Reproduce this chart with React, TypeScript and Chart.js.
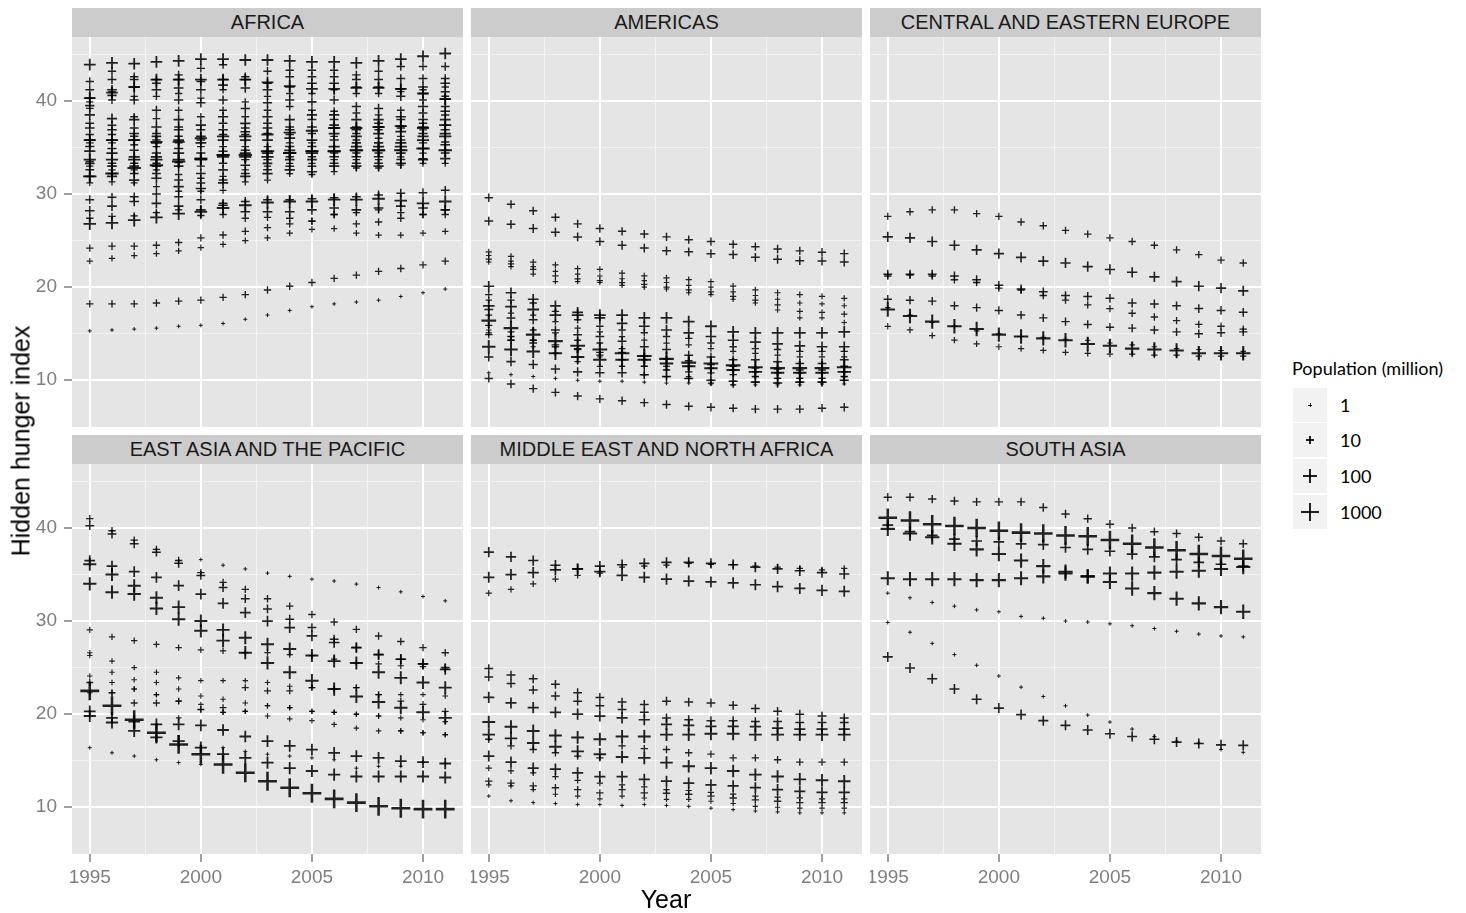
import React, { useEffect, useRef } from "react";
import { Chart, registerables } from "chart.js";

Chart.register(...registerables);

// ---------------- DATA ----------------
const years = [1995, 1996, 1997, 1998, 1999, 2000, 2001, 2002, 2003, 2004, 2005, 2006, 2007, 2008, 2009, 2010, 2011];
const regionNames = ["AFRICA", "AMERICAS", "CENTRAL AND EASTERN EUROPE", "EAST ASIA AND THE PACIFIC", "MIDDLE EAST AND NORTH AFRICA", "SOUTH ASIA"];
const yTickLabels = [10, 20, 30, 40];
const yMinorLines = [15, 25, 35, 45];
const xTickLabels = [1995, 2000, 2005, 2010];
const xMinorLines = [1997.5, 2002.5, 2007.5];
const popBreaks = [1, 10, 100, 1000];

// Africa: dense columns (one array per year, ranked top to bottom)
const africaByYear: number[][] = [
  [43.9, 42.1, 41.2, 40.3, 39.9, 39.5, 39.2, 38.5, 37.6, 37.1, 36.4, 35.8, 35.5, 35.1, 34.6, 33.7, 33.5, 33.3, 33.0, 32.6, 31.9, 31.2],
  [44.1, 43.2, 42.3, 41.2, 41.0, 40.6, 40.1, 38.1, 37.4, 36.9, 36.4, 35.8, 35.5, 34.9, 34.4, 33.7, 33.3, 33.0, 32.6, 32.2, 31.9, 31.3],
  [44.0, 42.6, 42.3, 41.5, 40.5, 40.1, 38.3, 38.0, 37.1, 36.5, 36.2, 35.8, 35.3, 34.7, 34.0, 33.7, 33.3, 33.0, 32.6, 32.2, 31.5, 31.2],
  [44.2, 42.3, 41.9, 41.2, 40.5, 39.0, 38.1, 37.2, 36.5, 36.2, 35.8, 35.5, 35.1, 34.4, 34.0, 33.7, 33.3, 33.0, 32.6, 32.2, 31.7, 30.8],
  [44.3, 42.8, 42.3, 41.4, 40.8, 40.1, 39.0, 38.0, 37.2, 36.9, 36.2, 35.8, 35.5, 34.9, 34.4, 33.7, 33.4, 33.0, 32.1, 31.5, 30.8, 30.3],
  [44.5, 43.5, 42.1, 41.2, 40.3, 39.8, 38.3, 37.4, 36.9, 36.2, 35.8, 35.5, 35.1, 34.4, 33.8, 33.7, 33.0, 32.2, 31.7, 31.2, 30.6, 30.3],
  [44.5, 43.9, 42.3, 41.7, 41.2, 40.1, 39.0, 38.3, 37.6, 36.9, 36.4, 35.8, 35.1, 34.6, 34.2, 34.0, 33.3, 32.6, 31.9, 31.5, 31.2, 30.4],
  [44.4, 42.6, 42.3, 41.4, 39.9, 39.2, 38.3, 37.6, 37.1, 36.7, 36.4, 35.8, 35.1, 34.7, 34.4, 34.0, 33.7, 33.1, 32.6, 32.2, 31.9, 31.3],
  [44.4, 43.2, 41.9, 41.2, 40.5, 39.8, 39.0, 38.3, 37.6, 37.1, 36.5, 35.8, 35.1, 34.6, 34.4, 34.0, 33.7, 33.3, 33.0, 32.6, 32.2, 31.5],
  [44.3, 43.3, 42.6, 41.5, 40.8, 40.1, 39.4, 38.0, 37.2, 36.9, 36.4, 36.0, 35.5, 35.1, 34.7, 34.4, 34.0, 33.7, 33.3, 33.0, 32.6, 32.2],
  [44.2, 43.3, 42.6, 41.9, 40.8, 39.9, 39.0, 38.5, 38.0, 37.2, 36.5, 35.8, 35.5, 35.1, 34.6, 34.4, 34.0, 33.7, 33.3, 33.0, 32.4, 32.1],
  [44.2, 43.3, 42.6, 41.9, 41.2, 40.1, 38.9, 38.5, 38.0, 37.4, 37.1, 36.5, 36.2, 35.8, 35.1, 34.6, 34.4, 34.0, 33.7, 33.3, 33.0, 32.4],
  [44.1, 42.8, 42.3, 41.5, 40.8, 39.4, 38.7, 38.0, 37.2, 36.9, 36.5, 36.2, 35.8, 35.5, 35.1, 34.7, 34.4, 34.0, 33.7, 33.3, 33.0, 32.8],
  [44.3, 43.2, 42.3, 41.5, 40.8, 39.2, 38.5, 38.0, 37.6, 37.2, 36.9, 36.5, 36.0, 35.5, 35.1, 34.7, 34.4, 34.0, 33.7, 33.3, 33.0, 32.8],
  [44.5, 43.7, 42.4, 41.3, 41.0, 40.5, 39.0, 38.3, 38.0, 37.3, 37.1, 36.7, 36.2, 35.8, 35.5, 35.1, 34.7, 34.4, 34.0, 33.7, 33.3, 33.1],
  [44.8, 43.7, 42.4, 41.5, 41.2, 40.8, 40.1, 39.4, 38.7, 38.0, 37.6, 37.2, 36.9, 36.5, 36.2, 35.8, 35.5, 34.9, 34.4, 33.8, 33.7, 33.3],
  [45.1, 43.7, 42.4, 41.9, 41.5, 41.0, 40.5, 40.2, 39.4, 38.9, 38.5, 38.0, 37.4, 36.9, 36.5, 36.2, 35.6, 35.3, 34.7, 34.4, 33.8, 33.3],
];
const africaRankPop = [40, 8, 10, 15, 5, 12, 6, 20, 10, 15, 8, 25, 6, 12, 30, 50, 8, 15, 5, 10, 20, 4];

const africaTracks: (number | null)[][] = [
  [31.9, 32.2, 32.8, 33.1, 33.5, 33.8, 34.2, 34.2, 34.6, 34.4, 34.6, 34.6, 34.7, 34.7, 34.7, 34.9, 34.7],
  [40.3, 40.9, 41.5, 42.3, 42.3, 42.3, 42.3, 42.3, 42.0, 41.6, 41.3, 41.3, 41.4, 41.4, 41.3, 40.8, 40.2],
  [35.8, 35.8, 35.8, 35.6, 35.6, 36.0, 36.2, 36.2, 36.4, 36.6, 36.8, 37.1, 37.1, 37.2, 37.3, 37.1, 37.4],
  [29.4, 29.65, 29.7, 30.0, 29.7, 29.4, 29.0, 29.2, 29.4, 29.4, 29.5, 29.6, 29.7, 29.9, 30.1, 30.15, 30.4],
  [28.2, 28.7, 29.2, 29.0, 28.7, 28.3, 28.8, 28.1, 28.1, 28.1, 28.3, 28.5, 28.3, 28.5, 28.7, 28.5, 28.3],
  [27.4, 27.6, 27.65, 28.0, 28.3, 27.7, 27.8, 27.4, 27.5, 27.4, 27.1, 27.8, 28.0, 28.3, 28.0, 27.8, 27.8],
  [26.8, 26.9, 27.2, 27.5, 27.9, 28.1, 28.5, 28.8, 29.1, 29.2, 29.2, 29.4, 29.4, 29.5, 29.3, 29.0, 29.2],
  [24.2, 24.4, 24.4, 24.5, 24.8, 25.3, 25.6, 26.0, 26.4, 26.8, 27.1, 27.8, 26.8, 27.0, 27.4, 27.8, 28.3],
  [22.8, 23.1, 23.4, 23.6, 23.9, 24.25, 24.6, 25.0, 25.3, 25.8, 26.2, 26.3, 25.8, 25.6, 25.6, 25.8, 26.0],
  [18.2, 18.2, 18.2, 18.3, 18.5, 18.6, 18.9, 19.2, 19.7, 20.1, 20.5, 20.95, 21.3, 21.7, 22.0, 22.4, 22.8],
  [15.3, 15.4, 15.5, 15.6, 15.8, 15.9, 16.1, 16.55, 17.0, 17.5, 17.9, 18.2, 18.4, 18.6, 19.0, 19.4, 19.8],
];
const africaPop = [90, 40, 50, 10, 15, 5, 60, 5, 3, 5, 1];

const americasTracks: (number | null)[][] = [
  [29.6, 28.9, 28.2, 27.5, 26.8, 26.3, 26.0, 25.7, 25.4, 25.1, 24.9, 24.6, 24.35, 24.1, 23.9, 23.75, 23.6],
  [27.1, 26.75, 26.3, 25.9, 25.4, 24.9, 24.5, 24.2, 23.9, 23.8, 23.6, 23.5, 23.2, 23.0, 22.85, 22.8, 22.7],
  [23.8, 23.3, 22.7, 22.4, 22.0, 21.9, 21.5, 21.2, 21.0, 20.8, 20.6, 20.1, 19.7, 19.4, 19.2, 19.0, 18.8],
  [23.4, 22.8, 22.2, 21.7, 21.4, 21.2, 20.9, 20.7, 20.5, 20.2, 20.0, 19.5, 19.1, 18.7, 18.3, 18.2, 18.0],
  [23.0, 22.5, 21.9, 21.2, 20.9, 20.7, 20.5, 20.3, 20.0, 19.7, 19.5, 19.0, 18.6, 18.1, 17.4, 17.3, 17.1],
  [22.7, 22.2, 21.4, 20.6, 20.6, 20.5, 20.2, 20.0, 19.8, 19.4, 19.2, 18.7, 18.3, 17.55, 16.7, 16.7, 16.2],
  [20.1, 19.4, 18.7, 18.0, 17.3, 16.7, 16.1, 15.8, 15.4, 15.1, 14.7, 14.3, 14.1, 13.9, 13.7, 13.6, 13.6],
  [16.4, 15.6, 14.9, 14.2, 13.7, 13.3, 12.9, 12.6, 12.3, 11.9, 11.8, 11.6, 11.4, 11.3, 11.3, 11.3, 11.4],
  [13.6, 13.3, 13.1, 12.9, 12.5, 12.2, 12.2, 12.2, 11.8, 11.5, 11.3, 11.1, 10.9, 10.8, 10.8, 10.8, 10.9],
  [18.0, 17.9, 17.6, 17.0, 17.0, 17.0, 17.0, 16.7, 16.7, 16.3, 15.8, 15.2, 15.1, 15.1, 15.1, 15.1, 15.2],
  [19.2, 18.6, 18.3, 17.4, 16.5, 15.8, 15.4, 15.1, 14.7, 14.5, 14.0, 13.6, 13.4, 13.3, 13.1, 13.1, 13.1],
  [18.6, 17.2, 17.0, 16.3, 15.6, 15.2, 14.7, 14.3, 14.0, 13.8, 13.4, 13.1, 12.9, 12.7, 12.5, 12.5, 12.5],
  [17.6, 16.7, 16.5, 15.4, 14.9, 14.7, 14.2, 13.6, 13.3, 12.7, 12.5, 12.2, 12.2, 12.0, 11.8, 11.8, 12.2],
  [17.0, 15.2, 15.4, 15.1, 14.3, 14.0, 13.4, 12.2, 11.5, 11.5, 11.3, 11.1, 10.9, 10.8, 10.8, 10.8, 10.9],
  [15.9, 14.7, 14.3, 13.6, 13.3, 12.7, 12.2, 11.5, 11.1, 10.9, 10.8, 10.6, 10.4, 10.2, 10.2, 10.2, 10.4],
  [12.5, 12.0, 11.7, 11.2, 10.9, 10.8, 10.8, 10.6, 10.4, 10.2, 10.0, 9.9, 9.8, 9.7, 9.8, 9.8, 10.0],
  [10.8, 10.6, 10.4, 10.2, 10.0, 9.9, 9.9, 9.8, 9.7, 9.7, 9.6, 9.5, 9.5, 9.5, 9.5, 9.6, 9.6],
  [10.2, 9.6, 9.1, 8.7, 8.3, 8.0, 7.8, 7.6, 7.4, 7.2, 7.1, 7.0, 6.9, 6.9, 6.9, 7.0, 7.1],
  [15.4, 14.7, 13.6, 12.9, 12.5, 12.5, 11.5, 11.5, 11.1, 10.4, 10.0, 9.9, 9.8, 9.7, 9.8, 9.8, 10.0],
  [15.1, 14.3, 14.3, 12.9, 12.0, 11.5, 11.5, 10.6, 10.4, 10.2, 9.7, 9.5, 10.4, 10.2, 10.2, 10.2, 10.4],
  [14.9, 14.3, 14.0, 13.8, 13.4, 13.0, 13.0, 12.6, 12.3, 12.1, 11.7, 11.5, 11.3, 11.2, 11.1, 11.1, 11.5],
];
const americasPop = [8, 10, 3, 2, 3, 2, 25, 170, 90, 40, 5, 3, 10, 4, 5, 12, 1, 8, 2, 3, 6];

const ceeTracks: (number | null)[][] = [
  [27.6, 28.1, 28.3, 28.3, 27.9, 27.6, 27.0, 26.6, 26.1, 25.7, 25.3, 24.9, 24.5, 24.0, 23.5, 22.9, 22.6],
  [25.4, 25.3, 24.9, 24.5, 24.0, 23.6, 23.2, 22.8, 22.6, 22.2, 21.9, 21.6, 21.1, 20.6, 20.1, 19.9, 19.6],
  [21.4, 21.4, 21.4, 21.2, 20.8, 20.2, 19.8, 19.5, 19.1, 19.0, 18.8, 18.3, 18.2, 18.0, 17.7, 17.5, 17.3],
  [21.2, 21.3, 21.2, 20.8, 20.5, 19.9, 19.7, 19.1, 18.6, 18.1, 17.7, 17.2, 16.8, 16.4, 16.0, 15.8, 15.5],
  [18.7, 18.6, 18.5, 18.0, 17.8, 17.5, 17.0, 16.7, 16.3, 16.0, 15.7, 15.6, 15.4, 15.2, 15.0, 15.1, 15.2],
  [17.6, 16.9, 16.3, 15.8, 15.5, 14.9, 14.7, 14.5, 14.3, 13.9, 13.7, 13.4, 13.3, 13.2, 12.9, 12.9, 12.9],
  [15.8, 15.4, 14.8, 14.3, 13.9, 13.6, 13.4, 13.2, 13.0, 12.9, 12.8, 12.8, 12.7, 12.7, 12.6, 12.6, 12.6],
  [17.8, 17.0, 16.2, 15.8, 15.3, 15.0, 14.7, 14.6, 14.4, 14.3, 14.0, 13.8, 13.6, 13.4, 13.3, 13.2, 13.1],
];
const ceePop = [5, 20, 10, 5, 8, 145, 3, 2];

const eapTracks: (number | null)[][] = [
  [22.5, 20.9, 19.4, 18.0, 16.75, 15.7, 14.6, 13.7, 12.8, 12.1, 11.5, 10.9, 10.5, 10.1, 9.9, 9.8, 9.8],
  [41.0, 39.7, 38.7, 37.7, 36.5, 35.2, 34.15, 33.4, 32.4, 31.6, 30.7, 29.9, 29.1, 28.4, 27.8, 27.15, 26.6],
  [40.25, 39.35, 38.3, 37.4, 36.2, 34.9, 33.6, 32.4, 31.3, 30.2, 29.3, 28.05, 27.15, 26.4, 25.9, 25.4, 25.0],
  [36.1, 35.0, 33.8, 32.5, 31.5, 30.0, 29.05, 28.2, 27.5, 27.0, 26.3, 25.7, 25.5, 24.5, 23.9, 23.4, 22.85],
  [34.0, 33.1, 32.9, 31.35, 30.2, 28.95, 27.9, 26.6, 25.5, 24.5, 23.6, 22.7, 21.9, 21.3, 20.7, 20.2, 19.6],
  [36.5, 35.9, 35.3, 34.7, 33.8, 32.9, 31.9, 30.9, 30.0, 29.3, 28.4, 27.7, 27.15, 26.4, 25.9, 25.4, 24.8],
  [29.05, 28.3, 27.9, 27.5, 27.15, 26.9, 26.8, 26.6, 26.6, 26.4, 26.3, 25.9, 25.5, 25.4, 25.2, 25.1, 24.8],
  [null, null, null, null, null, 36.6, 36.0, 35.6, 35.15, 34.8, 34.5, 34.3, 33.97, 33.6, 33.14, 32.64, 32.17],
  [26.6, 25.7, 25.0, 24.5, 23.9, 23.6, 23.6, 23.6, 23.4, 23.0, 22.85, 22.7, 22.85, 22.1, 22.1, 22.1, 21.95],
  [26.3, 24.5, 23.7, 23.4, 22.7, 21.95, 21.6, 21.2, 20.9, 20.7, 20.3, 20.2, 20.0, 19.8, 19.6, 19.4, 19.2],
  [24.1, 23.4, 22.7, 22.1, 21.4, 21.05, 20.2, 20.3, 19.8, 19.5, 19.3, 18.9, 18.5, 18.2, 18.2, 18.0, 17.8],
  [23.4, 22.3, 21.2, 21.2, 21.4, 20.5, 20.7, 22.85, 22.5, 22.5, 22.85, 22.7, 22.85, 22.1, 21.4, 21.05, 20.3],
  [20.3, 19.6, 19.2, 18.9, 18.9, 18.8, 18.3, 17.6, 17.1, 16.6, 16.2, 15.85, 15.5, 15.3, 14.95, 14.85, 14.7],
  [19.8, 19.1, 18.2, 17.5, 17.1, 16.4, 15.7, 15.3, 14.8, 14.2, 13.9, 13.5, 13.3, 13.3, 13.3, 13.3, 13.2],
  [16.4, 15.85, 15.5, 15.1, 14.8, 14.6, 16.4, 16.0, 15.7, 15.5, 15.3, 15.1, 14.2, 14.4, 14.4, 14.85, 14.7],
  [22.3, 22.3, 22.7, 22.1, 19.6, 20.5, 20.2, 20.3, 20.9, 20.7, 20.3, 20.2, 19.98, 19.8, 18.2, 18.0, 17.8],
];
const eapPop = [1250, 5, 10, 75, 85, 25, 3, 1, 2, 2, 2, 4, 40, 50, 1, 2];

const menaTracks: (number | null)[][] = [
  [37.4, 36.9, 36.5, 36.0, 35.6, 35.9, 36.05, 36.2, 36.3, 36.3, 36.2, 36.05, 35.8, 35.6, 35.4, 35.2, 35.05],
  [34.7, 35.0, 35.2, 35.5, 35.6, 35.3, 34.9, 34.7, 34.5, 34.3, 34.2, 34.1, 33.9, 33.7, 33.5, 33.3, 33.2],
  [33.0, 33.4, 34.0, 34.5, 34.9, 35.15, 35.8, 35.9, 36.0, 36.2, 36.1, 36.05, 35.9, 35.8, 35.65, 35.5, 35.65],
  [24.9, 24.2, 23.8, 23.2, 22.3, 21.8, 21.3, 21.05, 21.4, 21.3, 21.2, 20.95, 20.6, 20.3, 20.0, 19.8, 19.6],
  [24.0, 23.3, 22.6, 21.95, 21.4, 20.9, 20.5, 20.2, 19.6, 19.4, 19.3, 19.3, 19.2, 19.2, 19.1, 19.1, 19.1],
  [21.8, 21.2, 20.7, 20.2, 20.0, 19.8, 19.6, 19.4, 18.9, 18.8, 18.7, 18.7, 18.65, 18.5, 18.4, 18.4, 18.4],
  [19.15, 18.65, 18.2, 17.7, 17.5, 17.3, 17.6, 17.6, 17.8, 17.8, 17.9, 17.9, 17.8, 17.8, 17.8, 17.8, 17.8],
  [17.8, 17.4, 16.9, 16.5, 16.0, 15.7, 15.4, 15.3, 14.8, 14.4, 14.2, 13.9, 13.5, 13.3, 13.0, 12.9, 12.8],
  [17.3, 16.6, 16.2, 15.85, 15.5, 15.3, 16.6, 16.3, 16.2, 15.85, 15.7, 15.3, 15.3, 15.1, 14.85, 14.85, 14.85],
  [15.5, 14.85, 14.2, 14.1, 13.7, 13.3, 13.3, 13.0, 12.8, 12.6, 12.4, 12.3, 12.1, 11.9, 11.7, 11.6, 11.6],
  [14.2, 13.9, 13.7, 13.3, 12.9, 12.6, 12.4, 12.2, 11.9, 11.8, 11.6, 11.4, 11.2, 11.1, 11.0, 10.9, 10.9],
  [12.8, 12.6, 12.3, 12.1, 11.9, 11.55, 11.9, 11.55, 11.5, 11.4, 11.2, 11.0, 10.8, 10.65, 10.5, 10.5, 10.5],
  [12.4, 12.3, 11.9, 11.4, 11.2, 10.9, 11.2, 11.0, 10.85, 10.85, 10.65, 10.4, 10.1, 10.0, 9.9, 9.9, 9.9],
  [11.2, 10.7, 10.5, 10.4, 10.3, 10.3, 10.2, 10.3, 10.2, 10.1, 9.9, 9.75, 9.6, 9.5, 9.4, 9.4, 9.4],
];
const menaPop = [20, 30, 3, 10, 10, 30, 70, 60, 5, 30, 3, 5, 2, 1];

const saTracks: (number | null)[][] = [
  [43.3, 43.3, 43.1, 42.9, 42.8, 42.8, 42.8, 42.2, 41.5, 41.0, 40.4, 40.0, 39.6, 39.4, 39.0, 38.6, 38.3],
  [41.1, 40.8, 40.4, 40.2, 40.0, 39.7, 39.5, 39.4, 39.2, 39.1, 38.7, 38.3, 37.9, 37.6, 37.2, 37.0, 36.7],
  [39.9, 39.4, 39.0, 38.3, 37.7, 37.2, 36.5, 35.9, 35.3, 34.8, 34.2, 33.5, 33.0, 32.4, 31.9, 31.5, 31.0],
  [34.6, 34.5, 34.5, 34.5, 34.4, 34.4, 34.6, 34.8, 35.1, 34.8, 35.1, 35.1, 35.2, 35.3, 35.4, 35.6, 35.8],
  [40.3, 39.6, 39.2, 38.8, 38.6, 38.5, 38.3, 38.2, 37.9, 37.7, 37.5, 37.2, 36.9, 36.6, 36.3, 36.1, 35.9],
  [33.0, 32.5, 32.0, 31.6, 31.2, 31.0, 30.5, 30.3, 30.0, 29.9, 29.7, 29.5, 29.2, 28.9, 28.6, 28.4, 28.3],
  [29.85, 28.8, 27.6, 26.4, 25.25, 24.1, 22.9, 21.9, 20.9, 19.9, 19.15, 18.4, 17.6, 17.1, 16.9, 16.2, 15.9],
  [26.15, 24.96, 23.8, 22.7, 21.6, 20.65, 19.95, 19.3, 18.8, 18.3, 17.9, 17.6, 17.3, 17.0, 16.85, 16.7, 16.65],
];
const saPop = [8, 1100, 140, 130, 25, 1, 1, 18];

// ---------------- LAYOUT / STYLE ----------------
const FONT = '"Liberation Sans", Arial, Helvetica, sans-serif';
const LEGEND_FONT = 'Lato, "Open Sans", sans-serif';
const PANEL_W = 391;
const PANEL_H = 390;
const COL_X = [72, 471, 870];
const ROW_Y = [37, 464];
const STRIP_H = 29;
const X_AXIS_H = 50;
const Y_MIN = 4.98;
const Y_MAX = 46.87;
const X_MIN = 1994.2;
const X_MAX = 2011.8;

const markRadius = (pop: number) => 2 + 2.4 * Math.log10(Math.max(pop, 1));
const markWidth = (pop: number) => 1 + 0.5 * Math.log10(Math.max(pop, 1));
const INK = "rgba(0,0,0,0.86)";

function trackDataset(vals: (number | null)[], pop: number) {
  const data: { x: number; y: number }[] = [];
  vals.forEach((v, i) => {
    if (v !== null && v !== undefined) data.push({ x: years[i], y: v });
  });
  return {
    data,
    showLine: false,
    pointStyle: "cross",
    pointRadius: markRadius(pop),
    pointBorderWidth: markWidth(pop),
    pointBorderColor: INK,
    pointBackgroundColor: INK,
    pointHoverRadius: markRadius(pop),
  };
}

function regionDatasets(idx: number) {
  const ds: any[] = [];
  if (idx === 0) {
    africaRankPop.forEach((pop, r) => {
      ds.push(trackDataset(africaByYear.map((col) => col[r]), pop));
    });
    africaTracks.forEach((t, i) => ds.push(trackDataset(t, africaPop[i])));
  } else {
    const sets: [(number | null)[][], number[]][] = [
      [americasTracks, americasPop],
      [ceeTracks, ceePop],
      [eapTracks, eapPop],
      [menaTracks, menaPop],
      [saTracks, saPop],
    ];
    const [tracks, pops] = sets[idx - 1];
    tracks.forEach((t, i) => ds.push(trackDataset(t, pops[i])));
  }
  ds.sort((a, b) => b.pointRadius - a.pointRadius);
  return ds;
}

const panelBg = {
  id: "panelBg",
  beforeDraw(chart: any) {
    const { ctx, chartArea } = chart;
    ctx.save();
    ctx.fillStyle = "#E5E5E5";
    ctx.fillRect(chartArea.left, chartArea.top, chartArea.right - chartArea.left, chartArea.bottom - chartArea.top);
    ctx.restore();
  },
};

const zeroPad = (s: any) => {
  s.paddingLeft = 0;
  s.paddingRight = 0;
  s.paddingTop = 0;
  s.paddingBottom = 0;
};

function Panel({ idx }: { idx: number }) {
  const ref = useRef<HTMLCanvasElement>(null);
  const col = idx % 3;
  const row = Math.floor(idx / 3);
  const showY = col === 0;
  const showX = row === 1;
  const left = showY ? 0 : COL_X[col];
  const width = PANEL_W + (showY ? COL_X[0] : 0);
  const top = ROW_Y[row];
  const height = PANEL_H + (showX ? X_AXIS_H : 0);

  useEffect(() => {
    if (!ref.current) return;
    const isMajorX = (v: number) => xTickLabels.includes(v);
    const isMajorY = (v: number) => yTickLabels.includes(v);
    const chart = new Chart(ref.current, {
      type: "scatter",
      data: { datasets: regionDatasets(idx) },
      options: {
        responsive: false,
        animation: false,
        devicePixelRatio: 1,
        events: [],
        layout: { padding: 0, autoPadding: false },
        plugins: { legend: { display: false }, tooltip: { enabled: false } },
        scales: {
          x: {
            type: "linear",
            position: "bottom",
            min: X_MIN,
            max: X_MAX,
            afterBuildTicks: (s: any) => {
              s.ticks = [...xTickLabels, ...xMinorLines].sort((a, b) => a - b).map((v) => ({ value: v }));
            },
            afterFit: (s: any) => {
              s.height = showX ? X_AXIS_H : 0;
              zeroPad(s);
            },
            border: { display: false },
            grid: {
              color: (c: any) => (isMajorX(c.tick.value) ? "#FFFFFF" : "#F2F2F2"),
              lineWidth: (c: any) => (isMajorX(c.tick.value) ? 2 : 1),
              drawTicks: showX,
              tickLength: 8,
              tickWidth: 1.5,
              tickColor: (c: any) => (isMajorX(c.tick.value) ? "#7F7F7F" : "rgba(0,0,0,0)"),
            },
            ticks: {
              display: showX,
              autoSkip: false,
              maxRotation: 0,
              minRotation: 0,
              padding: 4,
              color: "#7F7F7F",
              font: { family: FONT, size: 19 },
              callback: (v: any) => (isMajorX(Number(v)) ? String(v) : ""),
            },
          },
          y: {
            type: "linear",
            position: "left",
            min: Y_MIN,
            max: Y_MAX,
            afterBuildTicks: (s: any) => {
              s.ticks = [...yTickLabels, ...yMinorLines].sort((a, b) => a - b).map((v) => ({ value: v }));
            },
            afterFit: (s: any) => {
              s.width = showY ? COL_X[0] : 0;
              zeroPad(s);
            },
            border: { display: false },
            grid: {
              color: (c: any) => (isMajorY(c.tick.value) ? "#FFFFFF" : "#F2F2F2"),
              lineWidth: (c: any) => (isMajorY(c.tick.value) ? 2 : 1),
              drawTicks: showY,
              tickLength: 8,
              tickWidth: 1.5,
              tickColor: (c: any) => (isMajorY(c.tick.value) ? "#7F7F7F" : "rgba(0,0,0,0)"),
            },
            ticks: {
              display: showY,
              autoSkip: false,
              padding: 7,
              color: "#7F7F7F",
              font: { family: FONT, size: 19 },
              callback: (v: any) => (isMajorY(Number(v)) ? String(v) : ""),
            },
          },
        },
      } as any,
      plugins: [panelBg],
    });
    return () => chart.destroy();
  }, [idx]);

  return (
    <>
      <div
        style={{
          position: "absolute",
          left: COL_X[col],
          top: top - STRIP_H,
          width: PANEL_W,
          height: STRIP_H,
          background: "#CCCCCC",
          color: "#1A1A1A",
          fontFamily: FONT,
          fontSize: 20,
          lineHeight: `${STRIP_H}px`,
          textAlign: "center",
          whiteSpace: "nowrap",
        }}
      >
        {regionNames[idx]}
      </div>
      <canvas
        ref={ref}
        width={width}
        height={height}
        style={{ position: "absolute", left, top, width, height, display: "block" }}
      />
    </>
  );
}

function LegendKey({ pop, top }: { pop: number; top: number }) {
  const r = markRadius(pop);
  const w = markWidth(pop);
  const cx = 17;
  const cy = 17;
  return (
    <div style={{ position: "absolute", left: 1293, top, width: 34, height: 34, background: "#F2F2F2" }}>
      <div style={{ position: "absolute", left: cx - r, top: cy - w / 2, width: 2 * r, height: w, background: INK }} />
      <div style={{ position: "absolute", left: cx - w / 2, top: cy - r, width: w, height: 2 * r, background: INK }} />
    </div>
  );
}

export default function App() {
  const keyTops = [388, 423, 459, 495];
  return (
    <div style={{ position: "absolute", left: 0, top: 0, width: 1466, height: 913, background: "#FFFFFF", overflow: "hidden" }}>
      {regionNames.map((_, i) => (
        <Panel key={i} idx={i} />
      ))}
      <div
        style={{
          position: "absolute",
          left: 21,
          top: 441,
          transform: "translate(-50%, -50%) rotate(-90deg)",
          whiteSpace: "nowrap",
          fontFamily: FONT,
          fontSize: 25,
          color: "#000",
        }}
      >
        Hidden hunger index
      </div>
      <div
        style={{
          position: "absolute",
          left: 666,
          top: 899,
          transform: "translate(-50%, -50%)",
          whiteSpace: "nowrap",
          fontFamily: FONT,
          fontSize: 25,
          color: "#000",
        }}
      >
        Year
      </div>
      <div
        style={{
          position: "absolute",
          left: 1292,
          top: 357,
          whiteSpace: "nowrap",
          fontFamily: LEGEND_FONT,
          fontSize: 18,
          color: "#000",
        }}
      >
        Population (million)
      </div>
      {popBreaks.map((p, i) => (
        <React.Fragment key={p}>
          <LegendKey pop={p} top={keyTops[i]} />
          <div
            style={{
              position: "absolute",
              left: 1340,
              top: keyTops[i] + 17,
              transform: "translateY(-50%)",
              fontFamily: LEGEND_FONT,
              fontSize: 18,
              color: "#000",
            }}
          >
            {p}
          </div>
        </React.Fragment>
      ))}
    </div>
  );
}
